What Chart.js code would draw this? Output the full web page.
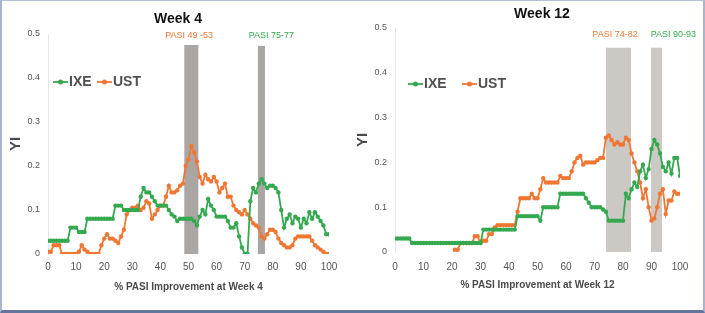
<!DOCTYPE html>
<html>
<head>
<meta charset="utf-8">
<script src="https://cdn.jsdelivr.net/npm/chart.js@4/dist/chart.umd.min.js"></script>
<style>
html,body{margin:0;padding:0;background:#fff;}
#frame{position:absolute;left:0;top:0;width:705px;height:313px;box-sizing:border-box;
  border-left:2px solid #a9b4cf;border-top:1px solid #b7c0d8;border-right:2px solid #a9b4cf;border-bottom:3px solid #64769c;background:#fff;}
canvas{position:absolute;top:0;}
#c1{left:0;}
#c2{left:350px;}
</style>
</head>
<body>
<div id="frame"></div>
<canvas id="c1" width="345" height="310"></canvas>
<canvas id="c2" width="355" height="310"></canvas>
<script>
// ---- data ----
const pct = [0,1,2,3,4,5,6,7,8,9,10,11,12,13,14,15,16,17,18,19,20,21,22,23,24,25,26,27,28,29,30,31,32,33,34,35,36,37,38,39,40,41,42,43,44,45,46,47,48,49,50,51,52,53,54,55,56,57,58,59,60,61,62,63,64,65,66,67,68,69,70,71,72,73,74,75,76,77,78,79,80,81,82,83,84,85,86,87,88,89,90,91,92,93,94,95,96,97,98,99,100];
const xTicks = [0,10,20,30,40,50,60,70,80,90,100];
const yTicks = [0,0.1,0.2,0.3,0.4,0.5];
const seriesNames = ['IXE','UST'];

const week4IXE = [0.03,0.03,0.03,0.03,0.03,0.03,0.03,0.03,0.06,0.06,
  0.06,0.05,0.05,0.05,0.08,0.08,0.08,0.08,0.08,0.08,
  0.08,0.08,0.08,0.08,0.11,0.11,0.11,0.10,0.10,0.10,
  0.10,0.10,0.10,0.13,0.15,0.14,0.14,0.13,0.12,0.11,
  0.11,0.11,0.11,0.10,0.09,0.085,0.075,0.08,0.08,0.08,
  0.08,0.08,0.075,0.065,0.085,0.10,0.09,0.125,0.11,0.10,
  0.085,0.085,0.085,0.085,0.075,0.06,0.06,0.07,0.04,0.015,
  0.0,0.0,0.12,0.15,0.14,0.16,0.17,0.16,0.15,0.155,
  0.155,0.15,0.14,0.10,0.06,0.08,0.09,0.07,0.085,0.08,
  0.06,0.08,0.07,0.095,0.08,0.095,0.085,0.075,0.065,0.045,
  0.045];
const week4UST = [0.005,0.005,0.02,0.02,0.02,0,0,0,0,0,
  0,0.005,0.02,0.01,0.005,0,0,0,0,0.02,
  0.035,0.045,0.035,0.035,0.03,0.025,0.04,0.055,0.09,0.10,
  0.105,0.105,0.11,0.10,0.105,0.12,0.115,0.08,0.09,0.10,
  0.11,0.11,0.13,0.155,0.14,0.14,0.145,0.155,0.16,0.20,
  0.215,0.245,0.23,0.21,0.175,0.16,0.18,0.17,0.165,0.175,
  0.165,0.14,0.15,0.16,0.13,0.13,0.11,0.10,0.095,0.09,
  0.10,0.09,0.08,0.07,0.065,0.06,0.04,0.035,0.045,0.055,
  0.055,0.05,0.035,0.025,0.02,0.015,0.015,0.02,0.035,0.04,
  0.04,0.04,0.04,0.04,0.03,0.02,0.015,0.01,0.005,0,
  0];
const week12IXE = [0.03,0.03,0.03,0.03,0.03,0.03,0.02,0.02,0.02,0.02,
  0.02,0.02,0.02,0.02,0.02,0.02,0.02,0.02,0.02,0.02,
  0.02,0.02,0.02,0.02,0.02,0.02,0.02,0.02,0.02,0.02,
  0.02,0.05,0.05,0.05,0.05,0.05,0.05,0.05,0.05,0.05,
  0.05,0.05,0.05,0.08,0.08,0.08,0.08,0.08,0.08,0.08,
  0.08,0.07,0.10,0.10,0.10,0.10,0.10,0.10,0.13,0.13,
  0.13,0.13,0.13,0.13,0.13,0.13,0.13,0.12,0.11,0.10,
  0.10,0.10,0.10,0.095,0.09,0.07,0.07,0.07,0.07,0.07,
  0.07,0.13,0.12,0.14,0.155,0.145,0.18,0.195,0.165,0.185,
  0.23,0.25,0.24,0.22,0.19,0.18,0.20,0.175,0.21,0.21,
  0.17];
const week12UST = [null,null,null,null,null,null,null,null,null,null,
  null,null,null,null,null,null,null,null,null,null,
  null,0.005,0.005,0.02,0.02,0.02,0.02,0.02,0.035,0.035,
  0.02,0.025,0.025,0.04,0.04,0.055,0.06,0.06,0.06,0.06,
  0.06,0.06,0.06,0.09,0.12,0.12,0.12,0.12,0.13,0.12,
  0.12,0.14,0.165,0.155,0.155,0.155,0.155,0.155,0.17,0.165,
  0.165,0.165,0.18,0.20,0.21,0.215,0.195,0.20,0.20,0.20,
  0.20,0.205,0.21,0.21,0.255,0.26,0.25,0.24,0.245,0.24,
  0.24,0.255,0.25,0.22,0.20,0.18,0.155,0.12,0.14,0.10,
  0.07,0.075,0.10,0.13,0.14,0.085,0.115,0.115,0.135,0.13,
  0.13];

// shaded windows: [from, to, top, label, labelX, labelColour]
const week4Bands = [[48.5,53.5,0.475,'PASI 49 -53',50.2,'orange'],[74.7,77.2,0.473,'PASI 75-77',79.5,'green']];
const week12Bands = [[74,82.8,0.456,'PASI 74-82',77.2,'orange'],[89.8,93.7,0.456,'PASI 90-93',97.7,'green']];

// ---- styling ----
const COL = {green:'#34a94f', orange:'#f07733'};
const FONT = '"Liberation Sans", Arial, sans-serif';

function toXY(vals){ return pct.map((x,i)=>({x:x,y:vals[i]})); }

const bandPlugin = {
  id:'bands',
  beforeDatasetsDraw(chart, args, o){
    const {ctx, scales:{x,y}} = chart;
    ctx.save();
    o.bands.forEach(b=>{
      const x0=x.getPixelForValue(b[0]), x1=x.getPixelForValue(b[1]);
      const yt=y.getPixelForValue(b[2]), yb=y.getPixelForValue(0);
      ctx.fillStyle=o.fill;
      ctx.fillRect(x0,yt,x1-x0,yb-yt);
      ctx.font='9px '+FONT;
      ctx.fillStyle=COL[b[5]];
      ctx.textAlign='center'; ctx.textBaseline='middle';
      ctx.fillText(b[3], x.getPixelForValue(b[4]), o.labelY);
    });
    ctx.restore();
  }
};
const decoPlugin = {
  id:'deco',
  afterDraw(chart, args, o){
    const ctx = chart.ctx;
    ctx.save();
    ctx.font='bold 14px '+FONT; ctx.fillStyle='#111';
    ctx.textAlign='center'; ctx.textBaseline='middle';
    ctx.fillText(o.title, o.titleX, o.titleY);
    // legend
    let lx = o.legX;
    chart.data.datasets.forEach(ds=>{
      ctx.strokeStyle=ds.borderColor; ctx.lineWidth=1.8;
      ctx.beginPath(); ctx.moveTo(lx,o.legY); ctx.lineTo(lx+15,o.legY); ctx.stroke();
      ctx.fillStyle=ds.borderColor;
      ctx.beginPath(); ctx.arc(lx+7.5,o.legY,2.5,0,Math.PI*2); ctx.fill();
      ctx.font='bold 14px '+FONT; ctx.fillStyle='#505050';
      ctx.textAlign='left';
      ctx.fillText(ds.label, lx+16, o.legY+0.5);
      lx += o.legGap;
    });
    ctx.restore();
  }
};

function makeChart(id, ixe, ust, bands, bandFill, xTitle, cfg){
  return new Chart(document.getElementById(id), {
    type:'line',
    data:{datasets:[
      {label:seriesNames[0], data:toXY(ixe), borderColor:COL.green, backgroundColor:COL.green, borderWidth:1.8, pointRadius:2.2, pointBorderWidth:0, pointHoverRadius:0, tension:0},
      {label:seriesNames[1], data:toXY(ust), borderColor:COL.orange, backgroundColor:COL.orange, borderWidth:1.8, pointRadius:2.2, pointBorderWidth:0, pointHoverRadius:0, tension:0}
    ]},
    options:{
      responsive:false, animation:false, events:[],
      layout:{padding:cfg.padding},
      plugins:{legend:{display:false}, tooltip:{enabled:false}, title:{display:false},
        bands:{bands:bands, fill:bandFill, labelY:cfg.bandLabelY},
        deco:{title:cfg.title, titleX:cfg.titleX, titleY:cfg.titleY, legX:cfg.legX, legY:cfg.legY, legGap:cfg.legGap}},
      scales:{
        x:{type:'linear', min:0, max:100,
          afterBuildTicks:s=>{s.ticks = xTicks.map(v=>({value:v}));},
          afterFit:s=>{s.height=cfg.xH;},
          grid:{display:false, drawTicks:false}, border:{display:false},
          ticks:{padding:cfg.xTickPad, color:'#555', font:{size:10, family:FONT}, maxRotation:0},
          title:{display:true, text:xTitle, color:'#4a4a4a', font:{size:10, weight:'bold', family:FONT}, padding:{top:4,bottom:4}}},
        y:{type:'linear', min:0, max:0.5,
          afterBuildTicks:s=>{s.ticks = yTicks.map(v=>({value:v}));},
          afterFit:s=>{s.width=cfg.yW;},
          grid:{display:false, drawTicks:false}, border:{display:true, color:'#e6e6e6', width:1},
          ticks:{padding:8, color:'#555', font:{size:9, family:FONT}},
          title:{display:true, text:'YI', color:'#4a4a4a', font:{size:15, weight:'bold', family:FONT}, padding:{top:4,bottom:4}}}
      }
    },
    plugins:[bandPlugin, decoPlugin]
  });
}

makeChart('c1', week4IXE, week4UST, week4Bands, '#aaa6a4', '% PASI Improvement at Week 4',
  {padding:{left:3,top:34,right:16,bottom:13}, yW:45, xH:43, xTickPad:7,
   title:'Week 4', titleX:178, titleY:19, bandLabelY:36, legX:53, legY:82, legGap:44});
makeChart('c2', week12IXE, week12UST, week12Bands, '#ccc8c4', '% PASI Improvement at Week 12',
  {padding:{left:0,top:28,right:25,bottom:15}, yW:45, xH:43, xTickPad:9,
   title:'Week 12', titleX:192, titleY:14, bandLabelY:35, legX:58, legY:84, legGap:54});
</script>
</body>
</html>
